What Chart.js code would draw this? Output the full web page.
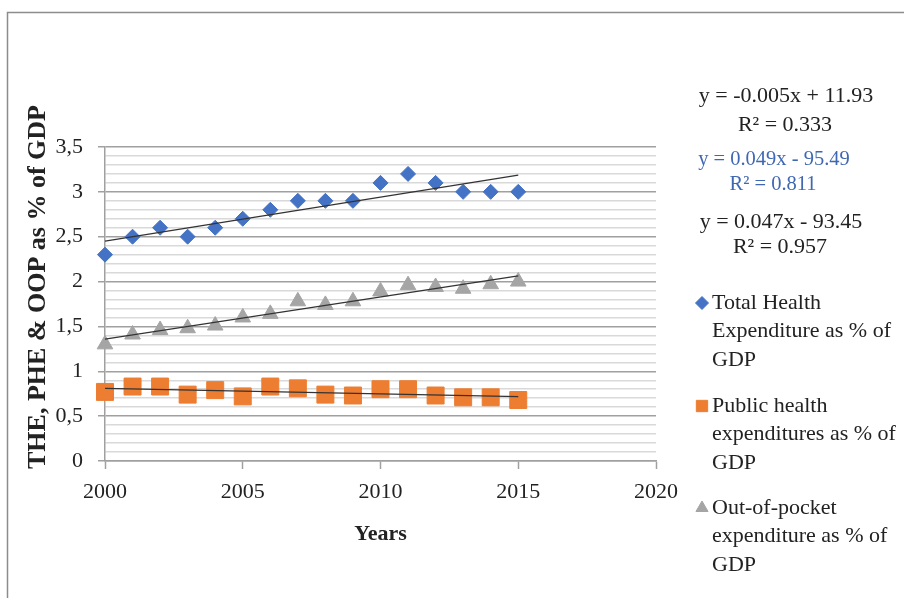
<!DOCTYPE html>
<html>
<head>
<meta charset="utf-8">
<script src="https://cdn.jsdelivr.net/npm/chart.js@4"></script>
<style>
  html, body { margin: 0; padding: 0; background: #fff; }
  #wrap { position: relative; width: 904px; height: 598px; }
</style>
</head>
<body>
<div id="wrap"><canvas id="chart" width="904" height="598"></canvas></div>
<script>
// Health spending as a share of GDP, 2000-2015
const years = [2000, 2001, 2002, 2003, 2004, 2005, 2006, 2007, 2008, 2009, 2010, 2011, 2012, 2013, 2014, 2015];
const totalHealth  = [2.3, 2.5, 2.6, 2.5, 2.6, 2.7, 2.8, 2.9, 2.9, 2.9, 3.1, 3.2, 3.1, 3.0, 3.0, 3.0];
const publicHealth = [0.77, 0.83, 0.83, 0.74, 0.79, 0.72, 0.83, 0.81, 0.74, 0.73, 0.80, 0.80, 0.73, 0.71, 0.71, 0.68];
const outOfPocket  = [1.3, 1.41, 1.46, 1.48, 1.51, 1.6, 1.64, 1.78, 1.74, 1.78, 1.89, 1.96, 1.94, 1.92, 1.97, 2.0];

const seriesNames = [
  ['Total Health', 'Expenditure as % of', 'GDP'],
  ['Public health', 'expenditures as % of', 'GDP'],
  ['Out-of-pocket', 'expenditure as % of', 'GDP']
];
const trendEquations = [
  ['y = -0.005x + 11.93', 'R\u00b2 = 0.333'],
  ['y = 0.049x - 95.49', 'R\u00b2 = 0.811'],
  ['y = 0.047x - 93.45', 'R\u00b2 = 0.957']
];
const xAxisTitle = 'Years';
const yAxisTitle = 'THE, PHE & OOP as % of GDP';

const SERIF = "'Liberation Serif', 'Times New Roman', serif";
const INK = '#222222';
const BLUE = '#4472C4', ORANGE = '#ED7D31', GRAY = '#A5A5A5';

Chart.defaults.font.family = SERIF;
Chart.defaults.color = INK;

const points = (ys) => years.map((x, i) => ({ x, y: ys[i] }));

// least-squares line across the first and last year
function fitLine(ys) {
  const n = years.length;
  const mx = years.reduce((a, b) => a + b, 0) / n;
  const my = ys.reduce((a, b) => a + b, 0) / n;
  let sxy = 0, sxx = 0;
  years.forEach((x, i) => { sxy += (x - mx) * (ys[i] - my); sxx += (x - mx) * (x - mx); });
  const b = sxy / sxx, a = my - b * mx;
  const x0 = years[0], x1 = years[n - 1];
  return [{ x: x0, y: a + b * x0 }, { x: x1, y: a + b * x1 }];
}

const trendStyle = {
  type: 'line', showLine: true, borderColor: '#333333', borderWidth: 1.2,
  pointRadius: 0, pointHoverRadius: 0, fill: false, order: 0, clip: false
};

const markerSets = [
  { label: seriesNames[0].join(' '), data: points(totalHealth), pointStyle: 'rectRot', pointRadius: 7.5,
    backgroundColor: BLUE, borderColor: BLUE, borderWidth: 1, order: 1, clip: false },
  { label: seriesNames[1].join(' '), data: points(publicHealth), pointStyle: 'rect', pointRadius: 12,
    backgroundColor: ORANGE, borderColor: ORANGE, borderWidth: 1, order: 1, clip: false },
  { label: seriesNames[2].join(' '), data: points(outOfPocket), pointStyle: 'triangle', pointRadius: 9,
    backgroundColor: GRAY, borderColor: GRAY, borderWidth: 1, order: 1, clip: false }
];

const trendSets = [
  Object.assign({ label: 'trend THE', data: fitLine(totalHealth) }, trendStyle),
  Object.assign({ label: 'trend PHE', data: fitLine(publicHealth) }, trendStyle),
  Object.assign({ label: 'trend OOP', data: fitLine(outOfPocket) }, trendStyle)
];

const isMajor = (v) => Math.abs(v * 2 - Math.round(v * 2)) < 1e-6;

// frame, rotated y title, equations and the wrapped legend
const decorations = {
  id: 'decorations',
  beforeDraw(chart) {
    const ctx = chart.ctx;
    ctx.save();
    ctx.strokeStyle = '#8c8c8c';
    ctx.lineWidth = 1.5;
    ctx.strokeRect(7.5, 12.5, 1000, 1000);
    ctx.restore();
  },
  afterDraw(chart) {
    const ctx = chart.ctx;
    ctx.save();

    // y axis title
    ctx.save();
    ctx.translate(38.5, 287);
    ctx.rotate(-Math.PI / 2);
    ctx.font = 'bold 26px ' + SERIF;
    ctx.fillStyle = INK;
    ctx.textAlign = 'center';
    ctx.textBaseline = 'middle';
    ctx.fillText(yAxisTitle, 0, 0);
    ctx.restore();

    // trend equations
    const eqColors = [INK, '#4068b2', INK];
    const eqCenters = [786, 774, 781];
    const eqTops = [96, 160, 222];
    const eqGaps = [29, 25, 25];
    const eqSizes = [22, 20.5, 22];
    ctx.textAlign = 'center';
    ctx.textBaseline = 'middle';
    trendEquations.forEach((pair, i) => {
      ctx.fillStyle = eqColors[i];
      ctx.font = eqSizes[i] + 'px ' + SERIF;
      ctx.fillText(pair[0], eqCenters[i], eqTops[i]);
      ctx.fillText(pair[1], eqCenters[i] - 1, eqTops[i] + eqGaps[i]);
    });

    // legend
    const itemTops = [303, 406, 508];
    const legendRadius = [6.5, 8, 7];
    ctx.textAlign = 'left';
    ctx.font = '22px ' + SERIF;
    markerSets.forEach((ds, i) => {
      ctx.fillStyle = ds.backgroundColor;
      ctx.strokeStyle = ds.borderColor;
      ctx.lineWidth = 1;
      Chart.helpers.drawPoint(ctx, { pointStyle: ds.pointStyle, radius: legendRadius[i], rotation: 0, borderWidth: 1 }, 702, itemTops[i]);
      ctx.fillStyle = INK;
      seriesNames[i].forEach((line, j) => ctx.fillText(line, 712, itemTops[i] + j * 28.5));
    });
    ctx.restore();
  }
};

new Chart(document.getElementById('chart'), {
  type: 'scatter',
  data: { datasets: trendSets.concat(markerSets) },
  options: {
    responsive: false,
    animation: false,
    events: [],
    layout: { padding: { top: 147, right: 248, bottom: 0, left: 0 } },
    plugins: { legend: { display: false }, tooltip: { enabled: false } },
    scales: {
      x: {
        type: 'linear', min: 2000, max: 2020,
        ticks: { stepSize: 5, padding: 10, font: { size: 22 }, color: INK, callback: (v) => String(v) },
        grid: { drawOnChartArea: false, drawTicks: true, tickLength: 8, tickColor: '#a0a0a0', tickWidth: 1.5 },
        border: { display: true, color: '#a0a0a0', width: 1.5 },
        title: { display: true, text: xAxisTitle, font: { size: 22, weight: 'bold' }, color: INK, padding: { top: 0, bottom: 50 } },
        afterFit: (scale) => { scale.height = 137; }
      },
      y: {
        type: 'linear', min: 0, max: 3.5,
        ticks: {
          stepSize: 0.1, autoSkip: false, padding: 15, font: { size: 22 }, color: INK,
          callback: (v) => isMajor(v) ? String(Math.round(v * 2) / 2).replace('.', ',') : ''
        },
        grid: {
          drawTicks: true, tickLength: 7, lineWidth: 1.5, tickWidth: 1.5,
          color: (c) => isMajor(c.tick.value) ? '#a0a0a0' : '#d9d9d9',
          tickColor: (c) => isMajor(c.tick.value) ? '#a0a0a0' : 'rgba(0,0,0,0)'
        },
        border: { display: true, color: '#a0a0a0', width: 1.5 },
        afterFit: (scale) => { scale.width = 105; }
      }
    }
  },
  plugins: [decorations]
});
</script>
</body>
</html>
